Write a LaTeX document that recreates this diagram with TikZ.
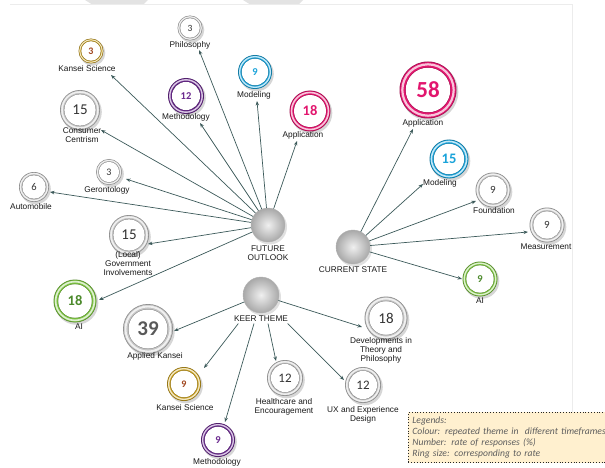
\documentclass[tikz,border=0pt]{standalone}
\usepackage{fontspec}
\setmainfont{Liberation Sans}
\newfontfamily\numfont{Carlito}
\usetikzlibrary{arrows.meta,shadings}
\definecolor{cpink}{HTML}{E2166E}
\definecolor{cblue}{HTML}{1AA3DA}
\definecolor{cpurple}{HTML}{6B2A8F}
\definecolor{cgold}{HTML}{C9A020}
\definecolor{cgoldnum}{HTML}{A0461E}
\definecolor{cgreen}{HTML}{7CC242}
\definecolor{cgreennum}{HTML}{4C8A2C}
\definecolor{cgray}{HTML}{C4C4C4}
\definecolor{cnum}{HTML}{333333}
\definecolor{arrowc}{HTML}{3C5A5A}
\definecolor{legfill}{HTML}{FFF0CF}
\definecolor{legtext}{HTML}{5E5E5E}
\newcommand{\myRing}[9]{%
  \pgfmathsetmacro{\rT}{0.22*#4}%
  \pgfmathsetmacro{\rI}{#4-\rT}%
  \pgfmathsetmacro{\rM}{#4-0.45*\rT}%
  \pgfmathsetmacro{\rW}{0.35*\rT}%
  \pgfmathsetmacro{\rD}{2*#4}%
  \fill[black,opacity=0.16] (#2+1.5,#3+2) circle (#4+0.3);
  \fill[#5!70!black] (#2,#3) circle (#4);
  \fill[#5] (#2,#3) circle (#4-0.7);
  \draw[#5!25!white, line width=\rW pt] (#2,#3) circle (\rM);
  \fill[#5!70!black] (#2,#3) circle (\rI+0.5);
  \fill[white] (#2,#3) circle (\rI);
  \node[circle, inner sep=0, minimum size=\rD pt, text=#6, font=\fontsize{#8}{#8}\selectfont\numfont#9] (#1) at (#2,#3) {#7};
}
\tikzset{
  lbl/.style={font=\fontsize{8.3}{9}\selectfont, text=black!90, align=center, inner sep=0},
  hub/.style={circle, minimum size=34pt, inner sep=0, draw=gray!60, line width=0.4pt,
              inner color=gray!12, outer color=gray!68},
  arr/.style={draw=arrowc, line width=0.7pt, -{Stealth[length=4.5pt,width=3.5pt]}}
}
\begin{document}
\begin{tikzpicture}[x=1pt,y=-1pt]
\useasboundingbox (0,0) rectangle (605,468);
\fill[white] (0,0) rectangle (605,468);
% faint frame decorations
\fill[gray!22] (85,0) -- (148,0) -- (143,5) -- (93,5) -- cycle;
\fill[gray!22] (243,0) -- (303,0) -- (298,5) -- (251,5) -- cycle;
\draw[gray!15, line width=0.8pt] (10,4) -- (572,4) -- (572,412);

% hubs
\fill[black,opacity=0.12] (269.5,227) circle (17.5);
\fill[black,opacity=0.12] (354.5,249) circle (17.5);
\fill[black,opacity=0.12] (262.5,297) circle (18.5);
\node[hub] (fo) at (268,225) {};
\node[hub] (cs) at (353,247) {};
\node[hub, minimum size=36pt] (kt) at (261,295) {};
\node[lbl] (fol) at (268,253) {FUTURE\\OUTLOOK};
\node[lbl] (csl) at (353,270) {CURRENT STATE};
\node[lbl, inner sep=1.5pt] (ktl) at (261,319) {KEER THEME};

% future outlook rings
\myRing{fphil}{190}{28}{12.5}{cgray}{cnum}{3}{9.5}{}
\myRing{fks}{91}{51}{12.5}{cgold}{cgoldnum}{3}{10}{\bfseries}
\myRing{fmod}{255}{72}{17}{cblue}{cblue}{9}{10.5}{\bfseries}
\myRing{fmeth}{186}{96}{18}{cpurple}{cpurple}{12}{10.5}{\bfseries}
\myRing{fapp}{310}{111}{20.5}{cpink}{cpink}{18}{14.5}{\bfseries}
\myRing{fcc}{80}{110}{20}{cgray}{cnum}{15}{15}{}
\myRing{fger}{109}{172}{13}{cgray}{cnum}{3}{10}{}
\myRing{fauto}{34}{187}{15}{cgray}{cnum}{6}{10.5}{}
\myRing{fgov}{129}{235}{20}{cgray}{cnum}{15}{15}{}
\myRing{fai}{75}{301}{21.5}{cgreen}{cgreennum}{18}{14.5}{\bfseries}
% keer theme rings
\myRing{kak}{148}{329}{25}{cgray}{gray!70!black}{39}{21}{\bfseries}
\myRing{kks}{184}{384}{17}{cgold}{cgoldnum}{9}{10}{\bfseries}
\myRing{kmeth}{218}{440}{17}{cpurple}{cpurple}{9}{10.5}{\bfseries}
\myRing{khc}{285}{378}{18}{cgray}{cnum}{12}{13}{}
\myRing{kdev}{386}{318}{21.5}{cgray}{cnum}{18}{15}{}
\myRing{kux}{363}{385}{18}{cgray}{cnum}{12}{13}{}
% current state rings
\myRing{capp}{428}{90}{28.5}{cpink}{cpink}{58}{23}{\bfseries}
\myRing{cmod}{449}{159}{19.5}{cblue}{cblue}{15}{14.5}{\bfseries}
\myRing{cfnd}{493}{190}{17.5}{cgray}{cnum}{9}{11}{}
\myRing{cmeas}{547}{225}{17.5}{cgray}{cnum}{9}{11}{}
\myRing{cai}{480}{279}{17.5}{cgreen}{cgreennum}{9}{10.5}{\bfseries}

% labels
\node[lbl] (lfphil) at (190,45) {Philosophy};
\node[lbl] (lfks) at (87,69) {Kansei Science};
\node[lbl] (lfmod) at (254,95) {Modeling};
\node[lbl] (lfmeth) at (186,117) {Methodology};
\node[lbl] (lfapp) at (303,135) {Application};
\node[lbl] (lfcc) at (82,135) {Consumer\\Centrism};
\node[lbl] (lfger) at (107,190) {Gerontology};
\node[lbl] (lfauto) at (31,207) {Automobile};
\node[lbl] (lfgov) at (128,264) {(Local)\\Government\\Involvements};
\node[lbl] (lfai) at (79,327) {AI};
\node[lbl] (lkak) at (155,356) {Applied Kansei};
\node[lbl] (lkks) at (185,408) {Kansei Science};
\node[lbl] (lkmeth) at (217,462) {Methodology};
\node[lbl] (lkhc) at (284,407) {Healthcare and\\Encouragement};
\node[lbl] (lkdev) at (381,350) {Developments in\\Theory and\\Philosophy};
\node[lbl] (lkux) at (363,415) {UX and Experience\\Design};
\node[lbl] (lcapp) at (423,123) {Application};
\node[lbl] (lcmod) at (440,183) {Modeling};
\node[lbl] (lcfnd) at (494,211) {Foundation};
\node[lbl] (lcmeas) at (546,247) {Measurement};
\node[lbl] (lcai) at (480,301) {AI};

% arrow end points
\coordinate (efphil) at (199,50);
\coordinate (efks) at (111,75);
\coordinate (efmod) at (257,101);
\coordinate (efmeth) at (200,123);
\coordinate (efapp) at (297,141);
\coordinate (efcc) at (101,130);
\coordinate (efger) at (126,179);
\coordinate (efauto) at (50,192);
\coordinate (efgov) at (148,244);
\coordinate (efai) at (99,300);
\coordinate (ekak) at (174,331);
\coordinate (ekks) at (204,368);
\coordinate (ekmeth) at (225,422);
\coordinate (ekhc) at (276,361);
\coordinate (ekdev) at (362,327);
\coordinate (ekux) at (344,380);
\coordinate (ecapp) at (413,129);
\coordinate (ecmod) at (423,184);
\coordinate (ecfnd) at (476,201);
\coordinate (ecmeas) at (528,232);
\coordinate (ecai) at (462,279);

% arrows
\foreach \t in {efphil,efks,efmod,efmeth,efapp,efcc,efger,efauto,efgov,efai}
  \draw[arr] (fo) -- (\t);
\foreach \t in {ekak,ekdev}
  \draw[arr] (kt) -- (\t);
\draw[arr] (ktl.south west) ++(6,0) -- (ekks);
\draw[arr] (ktl.south) ++(-7,0) -- (ekmeth);
\draw[arr] (ktl.south) ++(7,0) -- (ekhc);
\draw[arr] (ktl.south east) ++(-2,0) -- (ekux);
\foreach \t in {ecapp,ecmod,ecfnd,ecmeas,ecai}
  \draw[arr] (cs) -- (\t);

% legend
\node[draw=black!85, dotted, line width=0.8pt, fill=legfill, anchor=north west,
      inner xsep=4pt, inner ysep=4pt, text width=200pt, align=left, text=legtext,
      font=\fontsize{9.6}{11.3}\selectfont\numfont\itshape] (legend) at (408,412)
  {Legends:\\Colour: repeated theme in\ \ different timeframes\\Number: rate of responses (\%)\\Ring size: corresponding to rate};
\end{tikzpicture}
\end{document}
